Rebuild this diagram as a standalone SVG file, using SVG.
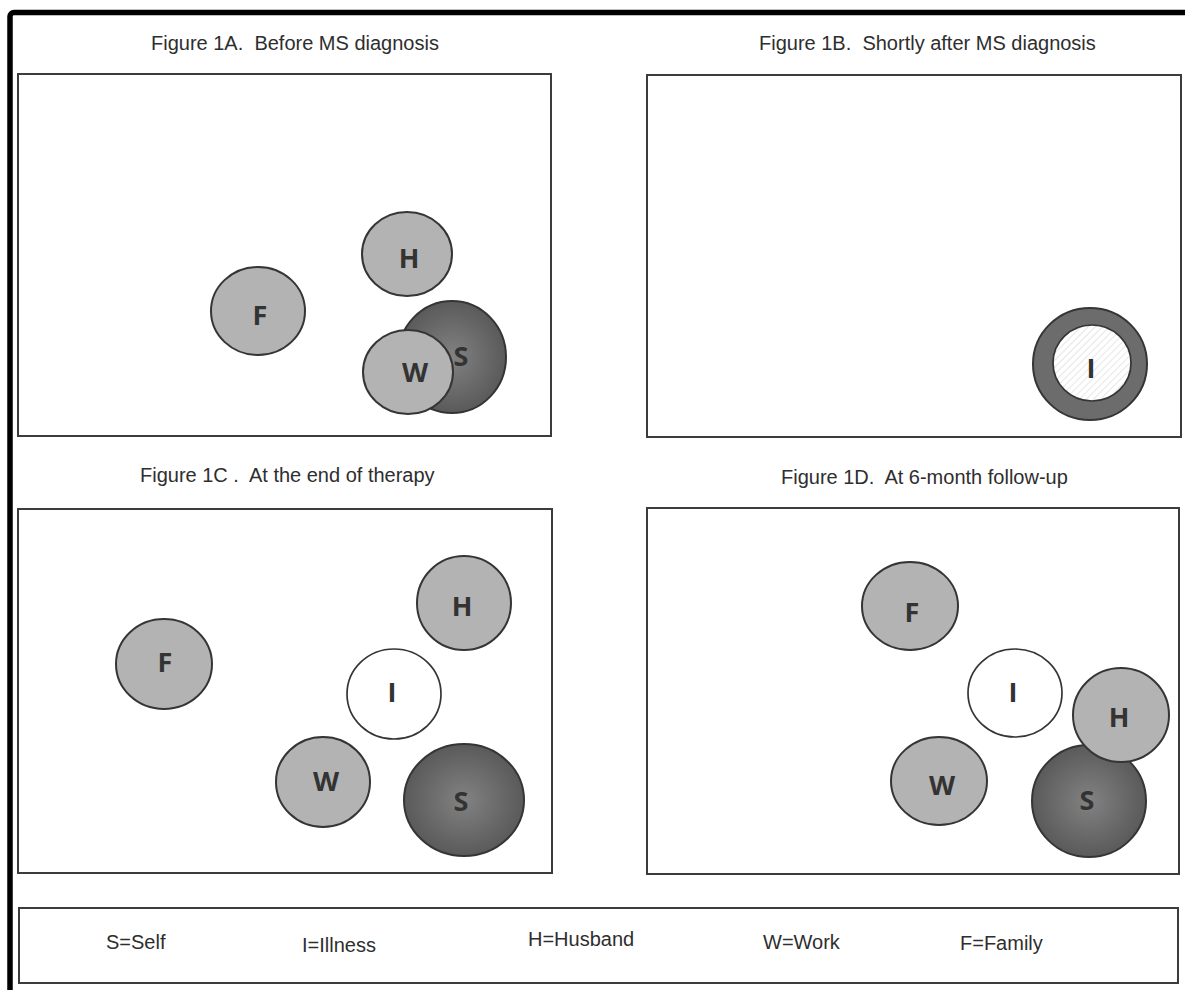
<svg xmlns="http://www.w3.org/2000/svg" width="1185" height="990" viewBox="0 0 1185 990">
<defs>
<radialGradient id="dark" cx="50%" cy="50%" r="50%">
<stop offset="0" stop-color="#828282"/>
<stop offset="1" stop-color="#5a5a5a"/>
</radialGradient>
<pattern id="hatch" width="5" height="5" patternUnits="userSpaceOnUse" patternTransform="rotate(45)">
<rect width="5" height="5" fill="#ffffff"/>
<line x1="0" y1="0" x2="0" y2="5" stroke="#d6d6d6" stroke-width="1.2"/>
</pattern>
</defs>
<style>
.frame{fill:none;stroke:#000;stroke-width:5.5}
.panel{fill:#fff;stroke:#3c3c3c;stroke-width:2}
.title{font-family:"Liberation Sans",Arial,sans-serif;font-size:20px;fill:#2e2e2e}
.legend{font-family:"Liberation Sans",Arial,sans-serif;font-size:20px;fill:#2e2e2e}
.light{fill:#b3b3b3;stroke:#353535;stroke-width:2}
.darkc{fill:url(#dark);stroke:#353535;stroke-width:2}
.white{fill:#fff;stroke:#353535;stroke-width:1.7}
.lbl{font-family:"Open Sans","DejaVu Sans",sans-serif;font-weight:bold;font-size:27px;fill:#333;text-anchor:middle}
</style>
<rect width="1185" height="990" fill="#fff"/>
<rect class="frame" x="10" y="12.5" width="1200" height="1000" rx="4"/>

<g id="panelA">
<text class="title" x="151" y="50">Figure 1A.&#160; Before MS diagnosis</text>
<rect class="panel" x="18" y="74" width="533" height="362"/>
<g id="A-F"><ellipse class="light" cx="258" cy="311" rx="47" ry="44"/><text class="lbl" x="260" y="325">F</text></g>
<g id="A-H"><ellipse class="light" cx="407" cy="254" rx="45" ry="42"/><text class="lbl" x="409" y="268">H</text></g>
<g id="A-S"><ellipse class="darkc" cx="452" cy="357" rx="54" ry="56"/><text class="lbl" x="461" y="366">S</text></g>
<g id="A-W"><ellipse class="light" cx="408" cy="372" rx="45" ry="42"/><text class="lbl" x="415" y="382">W</text></g>
</g>

<g id="panelB">
<text class="title" x="759" y="50">Figure 1B.&#160; Shortly after MS diagnosis</text>
<rect class="panel" x="647" y="75" width="534" height="362"/>
<g id="B-I">
<ellipse cx="1090" cy="364" rx="57" ry="56" fill="#6c6c6c" stroke="#353535" stroke-width="2"/>
<ellipse cx="1092" cy="363" rx="39" ry="38" fill="url(#hatch)" stroke="#353535" stroke-width="1.7"/>
<text class="lbl" x="1091" y="378">I</text>
</g>
</g>

<g id="panelC">
<text class="title" x="140" y="482">Figure 1C .&#160; At the end of therapy</text>
<rect class="panel" x="18" y="509" width="534" height="364"/>
<g id="C-F"><ellipse class="light" cx="164" cy="664" rx="48" ry="45"/><text class="lbl" x="165" y="672">F</text></g>
<g id="C-H"><ellipse class="light" cx="464" cy="603" rx="47" ry="47"/><text class="lbl" x="462" y="616">H</text></g>
<g id="C-I"><ellipse class="white" cx="394" cy="694" rx="47" ry="45"/><text class="lbl" x="392" y="702">I</text></g>
<g id="C-W"><ellipse class="light" cx="323" cy="782" rx="47" ry="45"/><text class="lbl" x="326" y="791">W</text></g>
<g id="C-S"><ellipse class="darkc" cx="464" cy="800" rx="60" ry="56"/><text class="lbl" x="461" y="811">S</text></g>
</g>

<g id="panelD">
<text class="title" x="781" y="484">Figure 1D.&#160; At 6-month follow-up</text>
<rect class="panel" x="647" y="508" width="532" height="366"/>
<g id="D-F"><ellipse class="light" cx="910" cy="606" rx="48" ry="44"/><text class="lbl" x="912" y="622">F</text></g>
<g id="D-I"><ellipse class="white" cx="1015" cy="693" rx="47" ry="44"/><text class="lbl" x="1013" y="702">I</text></g>
<g id="D-W"><ellipse class="light" cx="939" cy="781" rx="48" ry="44"/><text class="lbl" x="942" y="795">W</text></g>
<g id="D-S"><ellipse class="darkc" cx="1089" cy="801" rx="57" ry="56"/><text class="lbl" x="1087" y="810">S</text></g>
<g id="D-H"><ellipse class="light" cx="1121" cy="715" rx="48" ry="47"/><text class="lbl" x="1119" y="727">H</text></g>
</g>

<g id="legend">
<rect class="panel" x="19" y="908" width="1159" height="75"/>
<text class="legend" x="106" y="949">S=Self</text>
<text class="legend" x="302" y="952">I=Illness</text>
<text class="legend" x="528" y="946">H=Husband</text>
<text class="legend" x="763" y="949">W=Work</text>
<text class="legend" x="960" y="950">F=Family</text>
</g>
</svg>
